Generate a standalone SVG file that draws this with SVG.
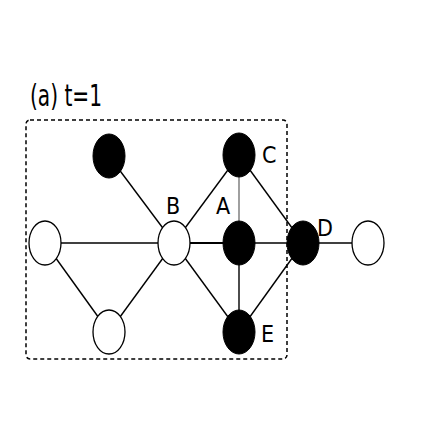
<svg xmlns="http://www.w3.org/2000/svg" width="436" height="436" viewBox="0 0 436 436">
<style>
.w{fill:#fff;stroke:#000;stroke-width:1.3}
.b{fill:#000;stroke:#000;stroke-width:1}
.e{stroke:#000;stroke-width:1.4;fill:none}
.lbl{font-family:"DejaVu Sans Condensed","Liberation Sans",sans-serif;font-size:23px;fill:#000}
</style>
<rect width="436" height="436" fill="#fff"/>
<text x="30" y="106" font-family="DejaVu Sans Condensed,Liberation Sans,sans-serif" font-size="30" textLength="72" lengthAdjust="spacingAndGlyphs">(a) t=1</text>
<rect x="26" y="120" width="261" height="239" rx="4" fill="none" stroke="#000" stroke-width="1.5" stroke-dasharray="4,3"/>
<g id="connectors">
<line class="e" x1="109" y1="156" x2="174" y2="243"/>
<line class="e" x1="45" y1="243" x2="174" y2="243"/>
<line class="e" x1="45" y1="243" x2="109" y2="332"/>
<line class="e" x1="109" y1="332" x2="174" y2="243"/>
<line class="e" x1="174" y1="243" x2="239" y2="243" style="stroke-width:2.2"/>
<line class="e" x1="174" y1="243" x2="239" y2="155"/>
<line class="e" x1="174" y1="243" x2="239" y2="332"/>
<line class="e" x1="239" y1="155" x2="239" y2="243" style="stroke:#888;stroke-width:1.6"/>
<line class="e" x1="239" y1="155" x2="303" y2="243"/>
<line class="e" x1="239" y1="243" x2="303" y2="243"/>
<line class="e" x1="239" y1="243" x2="239" y2="332"/>
<line class="e" x1="239" y1="332" x2="303" y2="243"/>
<line class="e" x1="303" y1="243" x2="368" y2="243"/>
</g>
<g id="n1"><ellipse class="b" cx="109" cy="156" rx="16" ry="22"/></g>
<g id="n2"><ellipse class="w" cx="45" cy="243" rx="16" ry="22"/></g>
<g id="n3"><ellipse class="w" cx="109" cy="332" rx="16" ry="22"/></g>
<g id="B"><ellipse class="w" cx="174" cy="243" rx="16" ry="22"/><text class="lbl" x="166" y="214">B</text></g>
<g id="C"><ellipse class="b" cx="239" cy="155" rx="16" ry="22"/><text class="lbl" x="262" y="163">C</text></g>
<g id="A"><ellipse class="b" cx="239" cy="243" rx="16" ry="22"/><text class="lbl" x="216" y="214">A</text></g>
<g id="D"><ellipse class="b" cx="303" cy="243" rx="16" ry="22"/><text class="lbl" x="317" y="236">D</text></g>
<g id="E"><ellipse class="b" cx="239" cy="332" rx="16" ry="22"/><text class="lbl" x="261" y="342">E</text></g>
<g id="n4"><ellipse class="w" cx="368" cy="243" rx="16" ry="22"/></g>
</svg>
